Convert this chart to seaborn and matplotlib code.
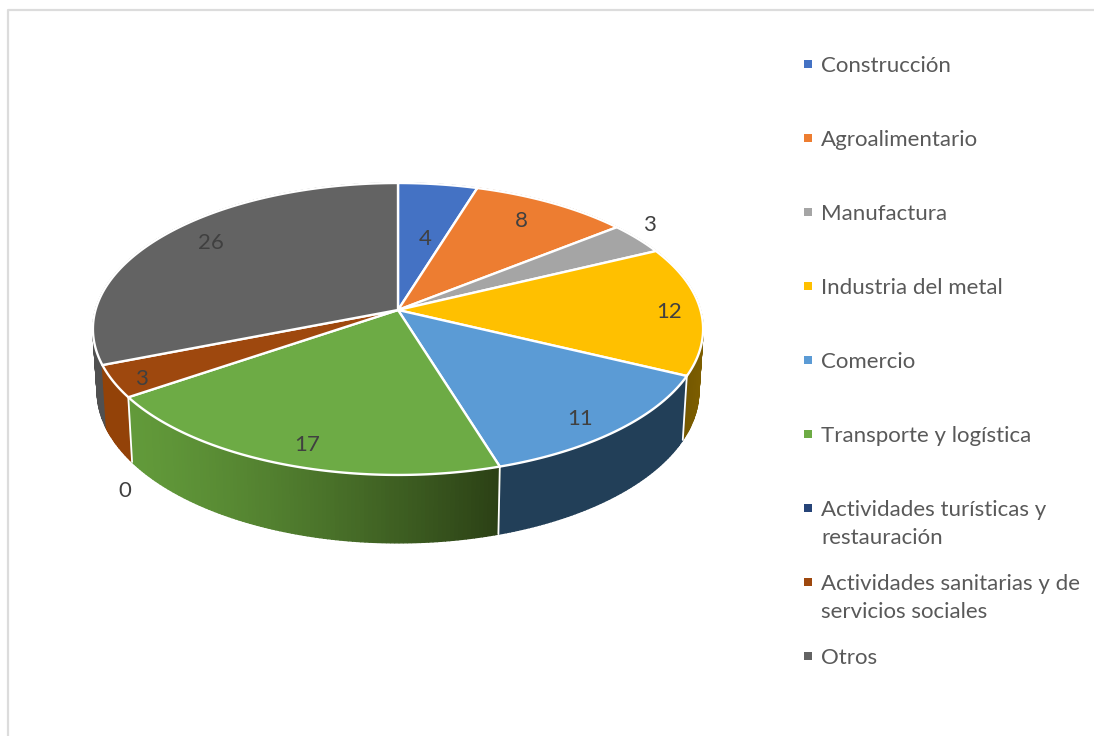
import numpy as np
import pandas as pd
import seaborn as sns
import matplotlib.pyplot as plt

# Data
categories = ["Construcción", "Agroalimentario", "Manufactura", "Industria del metal",
              "Comercio", "Transporte y logística",
              "Actividades turísticas y\nrestauración",
              "Actividades sanitarias y de\nservicios sociales", "Otros"]
values = [4, 8, 3, 12, 11, 17, 0, 3, 26]

# Style (wall colours are the screen-left and screen-right ends of each side wall)
top_colors = ["#4472C4", "#ED7D31", "#A5A5A5", "#FFC000", "#5B9BD5",
              "#6DAB45", "#264478", "#9E480E", "#636363"]
wall_left = ["#2a4578", "#8f4b1d", "#636363", "#6b5000", "#223f58",
             "#629a3a", "#172a49", "#934208", "#505050"]
wall_right = ["#2a4578", "#8f4b1d", "#636363", "#7d5e00", "#223f58",
              "#2b4015", "#172a49", "#934208", "#505050"]
label_x = [425, 521, 649, 669, 580, 307, 125, 141, 211]
label_y = [239, 221, 225, 312, 419, 445, 491, 379, 243]
legend_y = [64, 138, 212, 286, 360, 434, 508, 582, 656]

# Pie geometry in pixels (perspective view of a flat disc)
cx, cy = 398, 310
half_w, half_h = 302.5, 143.5
persp = 0.13
depth = 61.3
wall_sx, wall_sy = 0.986, 1.04


def project(theta, r=1.0):
    # theta runs clockwise from 12 o'clock
    x, y = r * np.sin(theta), r * np.cos(theta)
    w = 1 + persp * y
    return half_w * x / w, half_h * y / w


def top_xy(theta, r=1.0):
    u, v = project(theta, r)
    return cx + u, cy - v


def bottom_xy(theta):
    u, v = project(theta)
    return cx + wall_sx * u, cy + depth - wall_sy * v


sns.set_theme(style="white")
plt.rcParams["font.family"] = ["Lato", "DejaVu Sans"]

fig = plt.figure(figsize=(10.94, 7.36), dpi=100)
ax = fig.add_axes([0, 0, 1, 1])

edges = np.cumsum([0] + values) / sum(values) * 2 * np.pi
palette = sns.color_palette(top_colors)
left_rgb = sns.color_palette(wall_left)
right_rgb = sns.color_palette(wall_right)

# Side wall, strip by strip, back to front
strips = []
for i, v in enumerate(values):
    if v == 0:
        continue
    a = np.linspace(edges[i], edges[i + 1], v * 6 + 2)
    xs = top_xy(a)[0]
    for t0, t1 in zip(a[:-1], a[1:]):
        mid = top_xy((t0 + t1) / 2)[0]
        f = ((mid - xs.min()) / (xs.max() - xs.min())) ** 1.3
        col = tuple(np.array(left_rgb[i]) * (1 - f) + np.array(right_rgb[i]) * f)
        strips.append((t0, t1, col))
strips.sort(key=lambda s: top_xy((s[0] + s[1]) / 2)[1])
for t0, t1, col in strips:
    x0, y0 = top_xy(t0)
    x1, y1 = top_xy(t1)
    x2, y2 = bottom_xy(t1)
    x3, y3 = bottom_xy(t0)
    ax.fill([x0, x1, x2, x3], [y0, y1, y2, y3], color=col, lw=1.0, zorder=2)

# White seams where two front walls meet
for i in [4, 5, 7]:
    t = edges[i]
    x0, y0 = top_xy(t)
    x1, y1 = bottom_xy(t)
    ax.plot([x0, x1], [y0, y1], color="white", lw=1.3, zorder=3)

# Top face
for i, v in enumerate(values):
    if v == 0:
        continue
    a = np.linspace(edges[i], edges[i + 1], 120)
    xs, ys = top_xy(a)
    ax.fill(np.r_[cx, xs], np.r_[cy, ys], facecolor=palette[i], edgecolor="white",
            lw=1.7, joinstyle="round", zorder=4)

# Data labels
for x, y, v in zip(label_x, label_y, values):
    ax.text(x, y, str(v), fontsize=16, color="#404040", ha="center", va="center", zorder=5)

# Legend
legend_df = pd.DataFrame({"x": 808, "y": legend_y, "categoria": categories})
sns.scatterplot(data=legend_df, x="x", y="y", hue="categoria", palette=top_colors,
                marker="s", s=36, linewidth=0, legend=False, ax=ax, zorder=5)
for y, name in zip(legend_y, categories):
    ax.text(821, y - 8, name, fontsize=16, color="#595959", ha="left", va="top",
            linespacing=1.47, zorder=5)

# Chart frame
ax.plot([7.5, 7.5, 1094], [736, 9.5, 9.5], color="#dcdcdc", lw=1.6, zorder=1)

ax.set_xlim(0, 1094)
ax.set_ylim(736, 0)
ax.set_axis_off()

fig.savefig("out.png", dpi=100)
